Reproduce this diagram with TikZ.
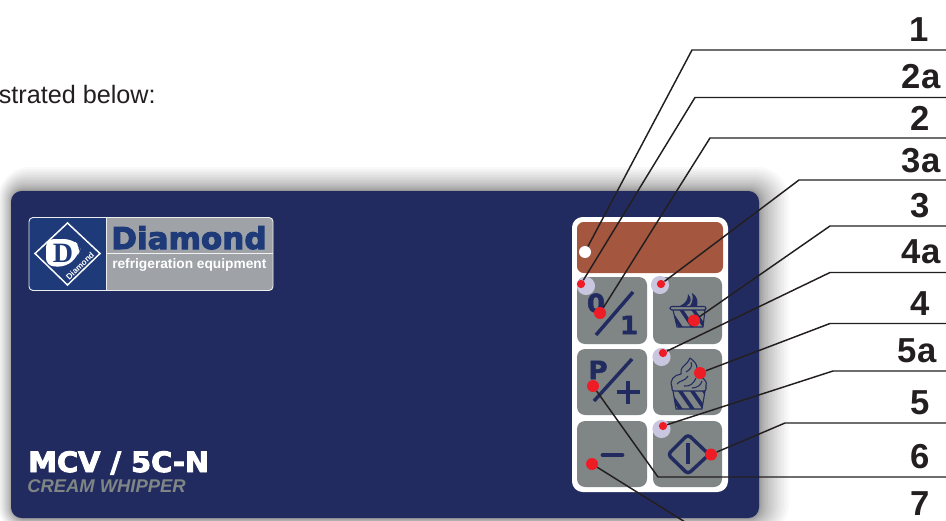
\documentclass[tikz,border=0pt]{standalone}
\usepackage{fontspec}
\setmainfont{Liberation Sans}
\newfontfamily\heavyfont[FakeBold=2,FakeStretch=1.03]{DejaVu Sans Bold}
\newfontfamily\modelfont[FakeBold=3.5,FakeStretch=1.03]{DejaVu Sans Bold}
\newfontfamily\serifcap{Liberation Serif}
\usetikzlibrary{calc,positioning}
\definecolor{panelblue}{HTML}{222B60}
\definecolor{logoblue}{HTML}{1F3A78}
\definecolor{logogray}{HTML}{9FA3A8}
\definecolor{keygray}{HTML}{7F8685}
\definecolor{dispbrown}{HTML}{A4563F}
\definecolor{ledlilac}{HTML}{C9C6E0}
\definecolor{dotred}{HTML}{EE1C25}
\definecolor{inkblack}{HTML}{231F20}
\tikzset{
  keybox/.style={fill=keygray,rounded corners=6pt},
  led/.style={fill=ledlilac},
  bigdot/.style={circle,fill=dotred,inner sep=0pt,minimum size=9pt},
  smalldot/.style={circle,fill=dotred,inner sep=0pt,minimum size=6.2pt},
  whitedot/.style={circle,fill=white,inner sep=0pt,minimum size=9pt},
  leader/.style={draw=inkblack,line width=1.1pt},
  callout/.style={inner sep=0pt,text=inkblack,font=\fontsize{26}{26}\bfseries},
  keyglyph/.style={inner sep=0pt,text=panelblue,font=\fontsize{19}{19}\heavyfont},
  keyline/.style={draw=panelblue,line width=2.6pt},
  iconline/.style={draw=panelblue,line width=0.8pt,line join=round},
}
\begin{document}
\begin{tikzpicture}[x=0.75pt,y=-0.75pt]
  \useasboundingbox (0,0) rectangle (946,521);
  \fill[white] (0,0) rectangle (946,521);
  % Intro text
  \node[anchor=base east,inner sep=0pt,text=inkblack,font=\fontsize{18.9}{18.9}\selectfont] (introtext) at (156,103) {strated below:};
  % Panel shadow
  \foreach \s in {1,...,22} {
    \pgfmathsetmacro{\t}{\s*\s/484}
    \pgfmathsetmacro{\r}{8+16*\t}
    \fill[black,opacity=0.024,rounded corners=\r pt] ({12-14*\t},{191-24*\t}) rectangle ({759+30*\t},{518+18*\t});
  }
  % Panel
  \fill[panelblue,rounded corners=8pt] (11,191) rectangle (759,518);
  % Logo
  \fill[logogray,rounded corners=3pt] (29,217.5) rectangle (273,290.5);
  \fill[logoblue,rounded corners=3pt] (29,217.5) rectangle (106,290.5);
  \fill[logoblue] (90,217.5) rectangle (106,290.5);
  \draw[white!80!logogray,line width=0.7pt,rounded corners=3pt] (29,217.5) rectangle (273,290.5);
  \draw[white!80!logogray,line width=0.7pt] (106,217.5) -- (106,290.5);
  \draw[white!85!logogray,line width=0.6pt] (106,253.5) -- (273,253.5);
  \draw[white,line width=1.1pt,line join=miter] (67.5,223) -- (100,253.5) -- (67.5,285) -- (35,253.5) -- cycle;
  \fill[white,rounded corners=6pt] (46,239) -- (72,239) -- (81,247) -- (78,256) -- (66,267) -- (46,266) -- cycle;
  \node[inner sep=0pt,text=logoblue,font=\fontsize{21}{21}\serifcap\bfseries] (logod) at (63,253) {D};
  \node[inner sep=0pt,text=white,font=\fontsize{6.2}{6.2}\bfseries,rotate=44] (logotiny) at (80,266) {Diamond};
  \node[inner sep=0pt,text=logoblue,font=\fontsize{22.6}{22.6}\modelfont,anchor=base west] (logoname) at (111,249) {Diamond};
  \node[inner sep=0pt,text=white,font=\fontsize{10.3}{10.3}\bfseries,anchor=base west] (logosub) at (112,268) {refrigeration equipment};
  % Model name
  \node[inner sep=0pt,text=white,font=\fontsize{21}{21}\modelfont,anchor=base west] (modelname) at (28,472) {MCV / 5C-N};
  \node[inner sep=0pt,text=keygray,font=\fontsize{13.8}{13.8}\bfseries\itshape,anchor=base west] (modeltype) at (27,492) {CREAM WHIPPER};
  % Key field
  \fill[white,rounded corners=8pt] (572,217) rectangle (728,492);
  \fill[dispbrown,rounded corners=5pt] (577,222) rectangle (723,273);
  \fill[keybox] (577,277) rectangle (647,344);
  \fill[keybox] (653,277) rectangle (722,344);
  \fill[keybox] (577,349) rectangle (647,415);
  \fill[keybox] (653,349) rectangle (722,415);
  \fill[keybox] (577,421) rectangle (647,487);
  \fill[keybox] (653,421) rectangle (722,487);
  % LEDs
  \fill[led] (586,286) circle (6.8pt);
  \fill[led] (660,285) circle (6.8pt);
  \fill[led] (661.5,357) circle (6.8pt);
  \fill[led] (661.5,429) circle (6.8pt);
  % 0/1 key
  \node[keyglyph] (zeroglyph) at (596,303) {0};
  \node[keyglyph] (oneglyph) at (629,325) {1};
  \draw[keyline] (633,292) -- (596,335);
  % P/+ key
  \node[keyglyph] (pglyph) at (598,370) {P};
  \draw[keyline] (632,359) -- (594,401);
  \draw[keyline,line width=3pt] (628,381) -- (628,404);
  \draw[keyline,line width=3pt] (617,392) -- (640,392);
  % Minus key
  \draw[keyline,line width=3.6pt,line cap=round] (603,455) -- (622,455);
  % Start key
  \draw[keyline,line join=round,rounded corners=2.5pt] (688,434.5) -- (709,454.5) -- (688,474) -- (668,454.5) -- cycle;
  \draw[keyline] (688,443) -- (688,464);
  % Small cup
  \begin{scope}
    \clip (673,310) -- (677,327) -- (703,327) -- (705,310) -- cycle;
    \foreach \c in {0,12,24,36}
      \draw[panelblue,line width=2.6pt] ({668+\c},308) -- ({682+\c},329);
  \end{scope}
  \draw[iconline] (673,310) -- (677,327) -- (703,327) -- (705,310);
  \draw[iconline,rounded corners=1.5pt] (670,306.5) rectangle (706,310);
  \fill[panelblue] (680,306) .. controls (686,303) and (688,299) .. (688,294) .. controls (692,298) and (692,303) .. (686,306) -- cycle;
  \fill[panelblue] (690,306) .. controls (693,302) and (693,297) .. (692,293) .. controls (698,297) and (698,302) .. (697,306) -- cycle;
  % Big cup
  \begin{scope}
    \clip (673,391) -- (676,409) -- (702,409) -- (705,391) -- cycle;
    \foreach \c in {0,12,24,36}
      \draw[panelblue,line width=2.8pt] ({666+\c},388) -- ({682+\c},411);
  \end{scope}
  \draw[iconline] (673,391) -- (676,409) -- (702,409) -- (705,391);
  \draw[iconline,rounded corners=1.5pt] (672,387) -- (672,391) -- (706,391) -- (706,385);
  \draw[iconline] (672,387) .. controls (669,380) and (674,375) .. (681,374) .. controls (680,368) and (684,366) .. (686,364) .. controls (689,361) and (689,359) .. (690,358) .. controls (694,361) and (697,364) .. (697,368) .. controls (698,372) and (697,374) .. (701,377) .. controls (706,380) and (707,383) .. (706,385);
  \draw[iconline] (677,384) .. controls (680,380) and (684,382) .. (688,376);
  \draw[iconline] (686,372) .. controls (690,370) and (693,366) .. (691,362);
  \draw[iconline] (684,386) .. controls (690,387) and (694,383) .. (696,378);
  \draw[iconline] (692,388) .. controls (697,388) and (701,385) .. (702,381);
  % Indicator dots
  \node[whitedot] (dotone) at (585,252) {};
  \node[smalldot] (dottwoa) at (581,284) {};
  \node[bigdot] (dottwo) at (600,313) {};
  \node[smalldot] (dotthreea) at (661,284) {};
  \node[bigdot] (dotthree) at (694,320.5) {};
  \node[smalldot] (dotfoura) at (663,353) {};
  \node[bigdot] (dotfour) at (700,373) {};
  \node[smalldot] (dotfivea) at (663,426) {};
  \node[bigdot] (dotfive) at (711,454.5) {};
  \node[bigdot] (dotsix) at (593,386) {};
  \node[bigdot] (dotseven) at (592,464) {};
  % Leader ends
  \coordinate (bendone) at (692,50);
  \coordinate (endone) at (946,50);
  \coordinate (bendtwoa) at (695,97.5);
  \coordinate (endtwoa) at (946,97.5);
  \coordinate (bendtwo) at (710,138);
  \coordinate (endtwo) at (946,138);
  \coordinate (bendthreea) at (799,180);
  \coordinate (endthreea) at (946,180);
  \coordinate (bendthree) at (830,226);
  \coordinate (endthree) at (946,226);
  \coordinate (bendfoura) at (830,272.5);
  \coordinate (endfoura) at (946,272.5);
  \coordinate (bendfour) at (830,323.5);
  \coordinate (endfour) at (946,323.5);
  \coordinate (bendfivea) at (833,371);
  \coordinate (endfivea) at (946,371);
  \coordinate (bendfive) at (785,423);
  \coordinate (endfive) at (946,423);
  \coordinate (bendsix) at (658,477);
  \coordinate (endsix) at (946,477);
  \coordinate (endseven) at (685,522);
  % Leaders
  \draw[leader] (dotone) -- (bendone) -- (endone);
  \draw[leader] (dottwoa) -- (bendtwoa) -- (endtwoa);
  \draw[leader] (dottwo) -- (bendtwo) -- (endtwo);
  \draw[leader] (dotthreea) -- (bendthreea) -- (endthreea);
  \draw[leader] (dotthree) -- (bendthree) -- (endthree);
  \draw[leader] (dotfoura) -- (bendfoura) -- (endfoura);
  \draw[leader] (dotfour) -- (bendfour) -- (endfour);
  \draw[leader] (dotfivea) -- (bendfivea) -- (endfivea);
  \draw[leader] (dotfive) -- (bendfive) -- (endfive);
  \draw[leader] (dotsix) -- (bendsix) -- (endsix);
  \draw[leader] (dotseven) -- (endseven);
  % Callout numbers
  \node[callout] (labelone) at (919,29.5) {1};
  \node[callout] (labeltwoa) at (921,77) {2a};
  \node[callout] (labeltwo) at (920,118.5) {2};
  \node[callout] (labelthreea) at (921,161) {3a};
  \node[callout] (labelthree) at (920,206) {3};
  \node[callout] (labelfoura) at (921,252) {4a};
  \node[callout] (labelfour) at (920,303.5) {4};
  \node[callout] (labelfivea) at (917,351) {5a};
  \node[callout] (labelfive) at (920,402.5) {5};
  \node[callout] (labelsix) at (920,456.5) {6};
  \node[callout] (labelseven) at (920,503.5) {7};
\end{tikzpicture}
\end{document}
